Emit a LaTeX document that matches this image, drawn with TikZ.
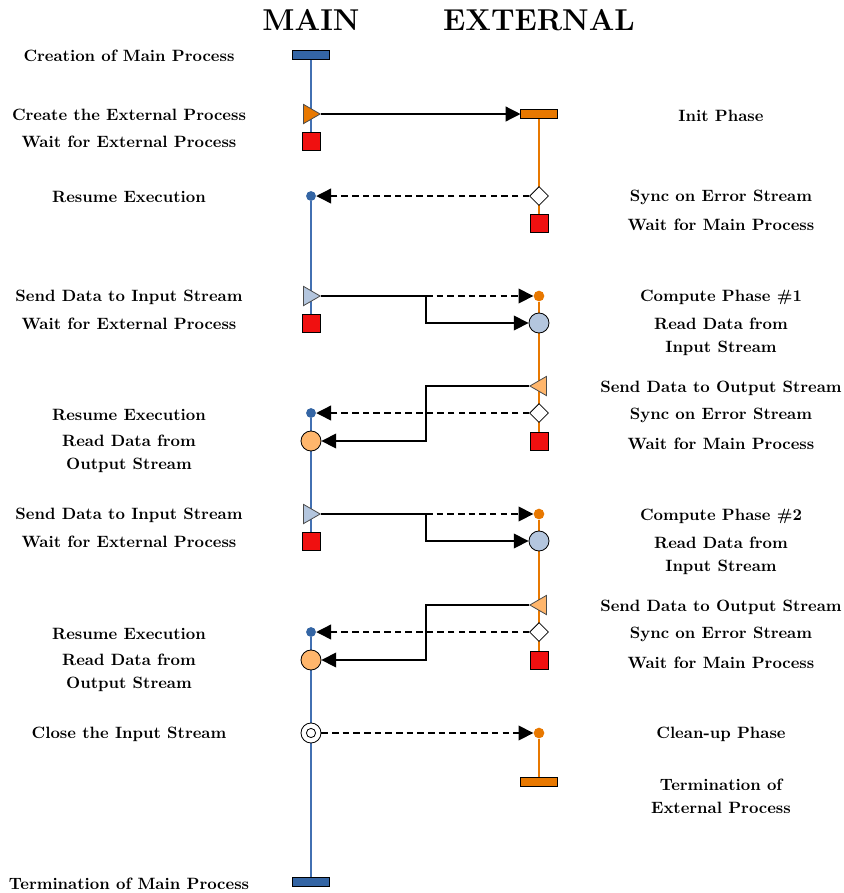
\documentclass[tikz,border=0pt]{standalone}
\usepackage{amsmath,amssymb}
\usepackage{tikz}
\usetikzlibrary{shapes.geometric, arrows.meta, backgrounds}
\definecolor{mainblue}{RGB}{52,101,164}
\definecolor{mainline}{RGB}{66,112,178}
\definecolor{extorange}{RGB}{232,120,0}
\definecolor{lightblue}{RGB}{180,198,222}
\definecolor{lightorange}{RGB}{255,182,108}
\definecolor{waitred}{RGB}{240,16,16}
\tikzset{
    lbl/.style={font=\bfseries, align=center, inner sep=1pt},
    head/.style={font=\fontsize{18.4}{22}\selectfont\bfseries, inner sep=0pt},
    bar/.style={rectangle, draw=black, line width=0.6pt, minimum width=22pt, minimum height=5.5pt, inner sep=0pt},
    waitbox/.style={rectangle, draw=black, fill=waitred, line width=0.5pt, minimum size=11pt, inner sep=0pt},
    tri/.style={regular polygon, regular polygon sides=3, draw=black!70, line width=0.5pt, minimum size=13.6pt, inner sep=0pt},
    sendright/.style={tri, shape border rotate=-90, xshift=-1.2pt},
    sendleft/.style={tri, shape border rotate=90, xshift=1.2pt},
    readcirc/.style={circle, draw=black, line width=0.5pt, minimum size=12.2pt, inner sep=0pt},
    sync/.style={diamond, draw=black, fill=white, line width=0.5pt, minimum size=11.6pt, inner sep=0pt},
    mdot/.style={circle, fill=mainblue, minimum size=6pt, inner sep=0pt},
    edot/.style={circle, fill=extorange, minimum size=6.5pt, inner sep=0pt},
    mainlife/.style={draw=mainline, line width=1.5pt},
    extlife/.style={draw=extorange, line width=1.5pt},
    arrow/.style={line width=0.8pt, -{Triangle[length=9pt, width=9pt]}},
    dasharrow/.style={arrow, dash pattern=on 4pt off 2.5pt}
}

\begin{document}
\begin{tikzpicture}[x=0.61pt, y=-0.61pt]
    \useasboundingbox (0,0) rectangle (844,893);

    % headers
    \node (hmain) [head] at (311,20) {MAIN};
    \node (hext) [head] at (539,20) {EXTERNAL};

    % main process
    \node (mstart) [bar, fill=mainblue] at (311,55) {};
    \node (mcreate) [sendright, fill=extorange] at (311,114) {};
    \node (mwait1) [waitbox] at (311,141) {};
    \node (mres1) [mdot] at (311,196) {};
    \node (msend1) [sendright, fill=lightblue] at (311,296) {};
    \node (mwait2) [waitbox] at (311,323) {};
    \node (mres2) [mdot] at (311,413) {};
    \node (mread1) [readcirc, fill=lightorange] at (311,441) {};
    \node (msend2) [sendright, fill=lightblue] at (311,514) {};
    \node (mwait3) [waitbox] at (311,541) {};
    \node (mres3) [mdot] at (311,632) {};
    \node (mread2) [readcirc, fill=lightorange] at (311,660) {};
    \node (mclose) [readcirc, fill=white, path picture={\draw[line width=0.5pt] (path picture bounding box.center) circle (2.8pt);}] at (311,733) {};
    \node (mend) [bar, fill=mainblue] at (311,882) {};

    % external process
    \node (einit) [bar, fill=extorange] at (539,114) {};
    \node (esync1) [sync] at (539,196) {};
    \node (ewait1) [waitbox] at (539,223) {};
    \node (ecomp1) [edot] at (539,296) {};
    \node (eread1) [readcirc, fill=lightblue] at (539,323) {};
    \node (esend1) [sendleft, fill=lightorange] at (539,386) {};
    \node (esync2) [sync] at (539,413) {};
    \node (ewait2) [waitbox] at (539,441) {};
    \node (ecomp2) [edot] at (539,514) {};
    \node (eread2) [readcirc, fill=lightblue] at (539,541) {};
    \node (esend2) [sendleft, fill=lightorange] at (539,605) {};
    \node (esync3) [sync] at (539,632) {};
    \node (ewait3) [waitbox] at (539,660) {};
    \node (eclean) [edot] at (539,733) {};
    \node (eend) [bar, fill=extorange] at (539,782) {};

    % lifelines
    \begin{scope}[on background layer]
        \draw [mainlife] (mstart) -- (mwait1);
        \draw [mainlife] (mres1) -- (mwait2);
        \draw [mainlife] (mres2) -- (mwait3);
        \draw [mainlife] (mres3) -- (mend);
        \draw [extlife] (einit) -- (ewait1);
        \draw [extlife] (ecomp1) -- (ewait2);
        \draw [extlife] (ecomp2) -- (ewait3);
        \draw [extlife] (eclean) -- (eend);
    \end{scope}

    % junctions
    \coordinate (j1) at (426,296);
    \coordinate (j2) at (426,386);
    \coordinate (j3) at (426,514);
    \coordinate (j4) at (426,605);

    % messages
    \draw [arrow] (mcreate.east) -- (einit);
    \draw [dasharrow] (esync1.west) -- (mres1);
    \draw [line width=0.8pt] (msend1.east) -- (j1);
    \draw [dasharrow] (j1) -- (ecomp1);
    \draw [arrow] (j1) |- (eread1);
    \draw [arrow] (esend1.west) -- (j2) |- (mread1);
    \draw [dasharrow] (esync2.west) -- (mres2);
    \draw [line width=0.8pt] (msend2.east) -- (j3);
    \draw [dasharrow] (j3) -- (ecomp2);
    \draw [arrow] (j3) |- (eread2);
    \draw [arrow] (esend2.west) -- (j4) |- (mread2);
    \draw [dasharrow] (esync3.west) -- (mres3);
    \draw [dasharrow] (mclose) -- (eclean);

    % labels main
    \node (lm1) [lbl] at (129,56) {Creation of Main Process};
    \node (lm2) [lbl] at (129,115) {Create the External Process};
    \node (lm3) [lbl] at (129,142) {Wait for External Process};
    \node (lm4) [lbl] at (129,197) {Resume Execution};
    \node (lm5) [lbl] at (129,297) {Send Data to Input Stream};
    \node (lm6) [lbl] at (129,324) {Wait for External Process};
    \node (lm7) [lbl] at (129,415) {Resume Execution};
    \node (lm8) [lbl] at (129,454) {Read Data from\\[2pt]Output Stream};
    \node (lm9) [lbl] at (129,515) {Send Data to Input Stream};
    \node (lm10) [lbl] at (129,542) {Wait for External Process};
    \node (lm11) [lbl] at (129,634) {Resume Execution};
    \node (lm12) [lbl] at (129,673) {Read Data from\\[2pt]Output Stream};
    \node (lm13) [lbl] at (129,734) {Close the Input Stream};
    \node (lm14) [lbl] at (129,884) {Termination of Main Process};

    % labels external
    \node (le1) [lbl] at (721,115.5) {Init Phase};
    \node (le2) [lbl] at (721,197.5) {Sync on Error Stream};
    \node (le3) [lbl] at (721,224.5) {Wait for Main Process};
    \node (le4) [lbl] at (721,297.5) {Compute Phase \#1};
    \node (le5) [lbl] at (721,336.5) {Read Data from\\[2pt]Input Stream};
    \node (le6) [lbl] at (721,388.5) {Send Data to Output Stream};
    \node (le7) [lbl] at (721,415.5) {Sync on Error Stream};
    \node (le8) [lbl] at (721,443.5) {Wait for Main Process};
    \node (le9) [lbl] at (721,516.5) {Compute Phase \#2};
    \node (le10) [lbl] at (721,555.5) {Read Data from\\[2pt]Input Stream};
    \node (le11) [lbl] at (721,607.5) {Send Data to Output Stream};
    \node (le12) [lbl] at (721,634.5) {Sync on Error Stream};
    \node (le13) [lbl] at (721,662.5) {Wait for Main Process};
    \node (le14) [lbl] at (721,734.5) {Clean-up Phase};
    \node (le15) [lbl] at (721,796.5) {Termination of\\[2pt]External Process};
\end{tikzpicture}
\end{document}
